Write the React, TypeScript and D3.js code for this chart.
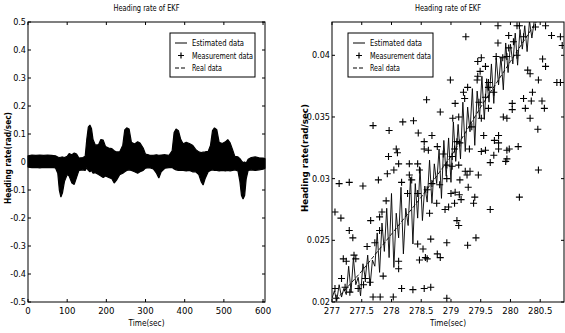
import React, { useEffect, useRef } from 'react';
import * as d3 from 'd3';

// left panel: the 0-600 s run, drawn as the black band the three series form
// [time, upper edge, lower edge]
const bandLeft: [number, number, number][] = [
  [0, 0.022, -0.018], [10, 0.025, -0.02], [20, 0.024, -0.019], [30, 0.025, -0.021],
  [40, 0.024, -0.019], [50, 0.025, -0.02], [60, 0.024, -0.019], [70, 0.022, -0.021],
  [76, 0.018, -0.04], [80, 0.016, -0.1], [84, 0.017, -0.125], [88, 0.018, -0.11],
  [93, 0.016, -0.07], [100, 0.02, -0.045], [105, 0.03, -0.05], [112, 0.026, -0.075],
  [118, 0.032, -0.08], [124, 0.028, -0.055], [130, 0.014, -0.03], [140, 0.016, -0.028],
  [146, 0.02, -0.03], [150, 0.08, -0.02], [154, 0.125, -0.03], [158, 0.132, -0.035],
  [162, 0.12, -0.03], [166, 0.08, -0.04], [172, 0.06, -0.038], [180, 0.062, -0.045],
  [186, 0.08, -0.05], [192, 0.078, -0.055], [198, 0.055, -0.05], [206, 0.05, -0.055],
  [214, 0.048, -0.06], [220, 0.04, -0.075], [226, 0.036, -0.065], [234, 0.036, -0.045],
  [242, 0.06, -0.04], [247, 0.115, -0.035], [252, 0.122, -0.03], [258, 0.118, -0.028],
  [264, 0.07, -0.03], [272, 0.064, -0.035], [280, 0.072, -0.04], [286, 0.068, -0.035],
  [294, 0.05, -0.03], [300, 0.028, -0.022], [310, 0.025, -0.02], [320, 0.024, -0.025],
  [328, 0.026, -0.04], [334, 0.024, -0.057], [340, 0.025, -0.035], [350, 0.026, -0.022],
  [360, 0.024, -0.02], [368, 0.04, -0.02], [373, 0.105, -0.025], [378, 0.118, -0.028],
  [384, 0.112, -0.03], [390, 0.08, -0.03], [396, 0.065, -0.03], [404, 0.07, -0.032],
  [412, 0.066, -0.03], [420, 0.06, -0.035], [428, 0.045, -0.035], [436, 0.036, -0.045],
  [442, 0.034, -0.07], [447, 0.035, -0.082], [452, 0.036, -0.06], [460, 0.038, -0.035],
  [466, 0.06, -0.03], [471, 0.112, -0.028], [476, 0.122, -0.03], [482, 0.115, -0.03],
  [488, 0.07, -0.032], [496, 0.066, -0.03], [504, 0.072, -0.032], [510, 0.08, -0.03],
  [516, 0.068, -0.032], [522, 0.045, -0.03], [528, 0.02, -0.028], [536, 0.018, -0.032],
  [541, 0.012, -0.07], [545, 0.004, -0.12], [549, -0.002, -0.132], [553, 0, -0.12],
  [557, -0.004, -0.06], [562, 0.01, -0.03], [570, 0.016, -0.028], [580, 0.018, -0.03],
  [590, 0.015, -0.028], [600, 0.014, -0.026], [605, 0.012, -0.022],
];

const leftXTicks = [0, 100, 200, 300, 400, 500, 600];
const leftYTicks = [-0.5, -0.4, -0.3, -0.2, -0.1, 0, 0.1, 0.2, 0.3, 0.4, 0.5];

// right panel: zoom on 277-281 s
const measured: [number, number][] = [
  [278.99, 0.038], [278.59, 0.0364], [278.82, 0.0354], [277.69, 0.0343], [277.96, 0.0339],
  [278.19, 0.0346], [278.37, 0.0347], [278.45, 0.0337], [278.68, 0.0335], [278.55, 0.033],
  [278.55, 0.0324], [278.62, 0.0323], [278.77, 0.0326], [278.87, 0.032], [278.08, 0.0324],
  [278.1, 0.0321], [277.95, 0.0318],
  [279.25, 0.0415], [279.79, 0.0424], [280.11, 0.0424], [280.15, 0.0424], [279.97, 0.0416],
  [279.79, 0.041], [280.05, 0.0411], [280.22, 0.0415], [280.42, 0.0423], [280.59, 0.0424],
  [280.69, 0.0416], [280.84, 0.0415], [280.87, 0.0408], [279.97, 0.0406], [279.94, 0.0399],
  [279.76, 0.0399], [279.87, 0.0398], [280.11, 0.04], [279.51, 0.0398], [279.45, 0.0395],
  [279.58, 0.0391], [279.49, 0.0387], [279.44, 0.038], [279.45, 0.0383], [279.63, 0.0378],
  [279.63, 0.0374], [279.28, 0.0374], [279.21, 0.037], [279.23, 0.0365], [279.07, 0.0361],
  [279.03, 0.0349], [279.13, 0.035], [279.47, 0.0362], [279.58, 0.0366], [279.72, 0.037],
  [280.33, 0.0385], [280.29, 0.0388], [280.47, 0.038], [280.59, 0.0391], [280.54, 0.0397],
  [280.78, 0.0378], [280.84, 0.0378], [280.37, 0.037], [280.22, 0.0365], [280.35, 0.0363],
  [280.53, 0.0363], [280.57, 0.0357], [280.25, 0.0357], [280.03, 0.0356], [280.03, 0.0361],
  [280.33, 0.0349], [280.46, 0.034], [279.94, 0.0349], [279.63, 0.0357], [279.88, 0.035],
  [279.51, 0.0349], [279.55, 0.0335], [279.8, 0.0335], [279.73, 0.0331], [279.8, 0.0329],
  [279.94, 0.0323], [280.13, 0.0326], [279.98, 0.0324], [279.8, 0.0324], [279.72, 0.0319],
  [279.51, 0.0322], [279.58, 0.0323], [279.15, 0.0329], [279.1, 0.033], [279.06, 0.0324],
  [279.31, 0.0324], [279.02, 0.0318], [279.94, 0.0316], [279.35, 0.0342],
  [277.12, 0.0296], [277.29, 0.0297], [277.52, 0.0294], [277.78, 0.0299], [277.05, 0.0273],
  [277.15, 0.0268], [277.29, 0.0258], [277.35, 0.0252], [277.19, 0.0235], [277.24, 0.0233],
  [277.37, 0.0238], [277.4, 0.0235], [277.16, 0.0219], [277.05, 0.0211], [277.22, 0.0212],
  [277.3, 0.0208], [277.65, 0.0266], [277.8, 0.0269], [277.8, 0.0258], [277.84, 0.0273],
  [277.91, 0.0282], [277.59, 0.0245], [277.72, 0.0248], [277.93, 0.0304], [278.04, 0.0307],
  [278.12, 0.0312], [278.3, 0.0312], [278.3, 0.0303], [278.44, 0.0312], [278.47, 0.0307],
  [278.34, 0.0299], [278.17, 0.0297], [278.27, 0.0288], [278.44, 0.0288], [278.6, 0.0291],
  [278.68, 0.0296], [278.81, 0.0295], [278.9, 0.0275], [278.76, 0.028], [278.64, 0.0272],
  [278.66, 0.0251], [278.44, 0.0247], [278.53, 0.0243], [278.57, 0.0236], [278.6, 0.0235],
  [278.77, 0.0239], [278.82, 0.0236], [278.47, 0.0234], [278.93, 0.0248], [278.12, 0.0233],
  [278.12, 0.0227], [278.17, 0.0211], [278.36, 0.021], [278.55, 0.0211], [278.66, 0.0212],
  [277.69, 0.0204], [277.81, 0.0204], [278.03, 0.0204], [278.93, 0.0203], [277.56, 0.0219],
  [277.86, 0.0221], [277.64, 0.0216], [277.53, 0.0214], [277.07, 0.0203], [277.44, 0.0211],
  [278.93, 0.0311], [279.02, 0.031], [279.13, 0.0311], [279.24, 0.0306], [279.27, 0.0303],
  [279.32, 0.0306], [279.46, 0.0303], [279.15, 0.0299], [278.93, 0.03], [279.66, 0.0313],
  [279.92, 0.0314], [280.47, 0.0307], [279.29, 0.0293], [279.0, 0.0288], [279.07, 0.0289],
  [279.14, 0.0287], [279.17, 0.0283], [279.06, 0.028], [278.96, 0.0277], [279.4, 0.0285],
  [279.38, 0.028], [279.66, 0.0275], [280.15, 0.0285], [279.1, 0.0266], [279.13, 0.0262],
  [279.42, 0.0252], [279.28, 0.0246],
];

const estimated: [number, number][] = [
  [277.0, 0.0203], [277.04, 0.0209], [277.08, 0.0201], [277.12, 0.0214], [277.16, 0.0204],
  [277.2, 0.0211], [277.24, 0.0206], [277.28, 0.0229], [277.32, 0.0208], [277.36, 0.0236],
  [277.4, 0.0214], [277.44, 0.022], [277.48, 0.0205], [277.52, 0.0231], [277.56, 0.0219],
  [277.6, 0.0238], [277.64, 0.0213], [277.68, 0.0234], [277.72, 0.0229], [277.76, 0.0256],
  [277.8, 0.0224], [277.84, 0.0264], [277.88, 0.0241], [277.92, 0.0276], [277.96, 0.0236],
  [278.0, 0.0288], [278.04, 0.0228], [278.08, 0.0272], [278.12, 0.0252], [278.16, 0.0293],
  [278.2, 0.0239], [278.24, 0.0276], [278.28, 0.0262], [278.32, 0.0301], [278.36, 0.0247],
  [278.4, 0.0296], [278.44, 0.0268], [278.48, 0.0309], [278.52, 0.0266], [278.56, 0.0294],
  [278.6, 0.0281], [278.64, 0.0315], [278.68, 0.028], [278.72, 0.0312], [278.76, 0.0296],
  [278.8, 0.0324], [278.84, 0.0284], [278.88, 0.0331], [278.92, 0.0302], [278.96, 0.0333],
  [279.0, 0.0297], [279.04, 0.0346], [279.08, 0.0314], [279.12, 0.0344], [279.16, 0.0316],
  [279.2, 0.0362], [279.24, 0.0322], [279.28, 0.0358], [279.32, 0.0338], [279.36, 0.0373],
  [279.4, 0.0327], [279.44, 0.0371], [279.48, 0.0349], [279.52, 0.0383], [279.56, 0.0348],
  [279.6, 0.0381], [279.64, 0.0362], [279.68, 0.0393], [279.72, 0.0361], [279.76, 0.0398],
  [279.8, 0.0376], [279.84, 0.0399], [279.88, 0.0372], [279.92, 0.041], [279.96, 0.0386],
  [280.0, 0.0409], [280.04, 0.0393], [280.08, 0.0418], [280.12, 0.0392], [280.16, 0.0421],
  [280.2, 0.0405], [280.24, 0.0424], [280.28, 0.0403], [280.32, 0.0428], [280.36, 0.0414],
  [280.4, 0.0428],
];

const realData: [number, number][] = [
  [277.0, 0.0198], [277.5, 0.0225], [278.0, 0.0255], [278.5, 0.0285],
  [279.0, 0.0318], [279.5, 0.0358], [280.0, 0.0395], [280.5, 0.0432],
];

const rightXTicks = [277, 277.5, 278, 278.5, 279, 279.5, 280, 280.5];
const rightYTicks = [0.02, 0.025, 0.03, 0.035, 0.04];

const legendItems = ['Estimated data', 'Measurement data', 'Real data'];

const FONT = "'DejaVu Sans Condensed', 'Liberation Sans', sans-serif";

type Box = { x0: number; x1: number; y0: number; y1: number };

function frame(
  g: d3.Selection<SVGGElement, unknown, null, undefined>,
  x: d3.ScaleLinear<number, number>, y: d3.ScaleLinear<number, number>,
  b: Box, xt: number[], yt: number[],
) {
  const tl = 3;
  g.append('rect').attr('x', b.x0).attr('y', b.y0).attr('width', b.x1 - b.x0).attr('height', b.y1 - b.y0)
    .attr('fill', 'none').attr('stroke', '#000').attr('stroke-width', 1);
  xt.forEach(t => {
    const px = x(t);
    g.append('line').attr('x1', px).attr('x2', px).attr('y1', b.y1).attr('y2', b.y1 - tl).attr('stroke', '#000');
    g.append('line').attr('x1', px).attr('x2', px).attr('y1', b.y0).attr('y2', b.y0 + tl).attr('stroke', '#000');
    g.append('text').attr('x', px).attr('y', b.y1 + 12).attr('text-anchor', 'middle')
      .attr('font-size', 9.5).text(String(t));
  });
  yt.forEach(t => {
    const py = y(t);
    g.append('line').attr('x1', b.x0).attr('x2', b.x0 + tl).attr('y1', py).attr('y2', py).attr('stroke', '#000');
    g.append('line').attr('x1', b.x1).attr('x2', b.x1 - tl).attr('y1', py).attr('y2', py).attr('stroke', '#000');
    g.append('text').attr('x', b.x0 - 2).attr('y', py + 3).attr('text-anchor', 'end')
      .attr('font-size', 9).text(String(t));
  });
  const cx = (b.x0 + b.x1) / 2;
  g.append('text').attr('x', cx).attr('y', 11).attr('text-anchor', 'middle').attr('font-size', 8)
    .attr('textLength', 66).attr('lengthAdjust', 'spacingAndGlyphs').text('Heading rate of EKF');
  g.append('text').attr('x', cx).attr('y', 326).attr('text-anchor', 'middle').attr('font-size', 9.5)
    .attr('textLength', 36).attr('lengthAdjust', 'spacingAndGlyphs').text('Time(sec)');
}

function legend(g: d3.Selection<SVGGElement, unknown, null, undefined>, lx: number, ly: number, w: number) {
  const widths = [52, 61, 30];
  g.append('rect').attr('x', lx).attr('y', ly).attr('width', w).attr('height', 44)
    .attr('fill', '#fff').attr('stroke', '#000').attr('stroke-width', 1);
  legendItems.forEach((name, i) => {
    const yy = ly + 10 + i * 12.5;
    const sx = lx + 5;
    if (i === 0) g.append('line').attr('x1', sx).attr('x2', sx + 12).attr('y1', yy).attr('y2', yy).attr('stroke', '#000');
    if (i === 1) g.append('path').attr('d', `M${sx + 6 - 3},${yy}h6M${sx + 6},${yy - 3}v6`).attr('stroke', '#000').attr('stroke-width', 1.2);
    if (i === 2) g.append('line').attr('x1', sx).attr('x2', sx + 12).attr('y1', yy).attr('y2', yy)
      .attr('stroke', '#000').attr('stroke-dasharray', '4,2');
    g.append('text').attr('x', sx + 17).attr('y', yy + 3).attr('font-size', 9)
      .attr('textLength', widths[i]).attr('lengthAdjust', 'spacingAndGlyphs').text(name);
  });
}

function yLabel(g: d3.Selection<SVGGElement, unknown, null, undefined>, x: number, cy: number, len: number) {
  g.append('text').attr('transform', `translate(${x},${cy}) rotate(-90)`)
    .attr('text-anchor', 'middle').attr('font-size', 9).attr('font-weight', 'bold')
    .attr('textLength', len).attr('lengthAdjust', 'spacingAndGlyphs')
    .text('Heading rate(rad/sec)');
}

export default function App() {
  const ref = useRef<SVGSVGElement>(null);

  useEffect(() => {
    if (!ref.current) return;
    const svg = d3.select(ref.current);
    svg.selectAll('*').remove();
    const root = svg.append('g').attr('font-family', FONT).attr('fill', '#000');

    // ---- left
    const bl: Box = { x0: 28, x1: 265, y0: 22, y1: 302 };
    const xl = d3.scaleLinear().domain([0, 605]).range([bl.x0, bl.x1]);
    const yl = d3.scaleLinear().domain([-0.5, 0.5]).range([bl.y1, bl.y0]);
    const gl = root.append('g');
    const area = d3.area<[number, number, number]>()
      .x(d => xl(d[0])).y0(d => yl(d[2])).y1(d => yl(d[1]));
    gl.append('path').datum(bandLeft).attr('d', area).attr('fill', '#000')
      .attr('stroke', '#000').attr('stroke-width', 1.2).attr('stroke-linejoin', 'bevel');
    frame(gl, xl, yl, bl, leftXTicks, leftYTicks);
    legend(gl, 170, 33, 85);
    yLabel(gl, 11, 158, 92);

    // ---- right
    const br: Box = { x0: 332, x1: 564, y0: 22, y1: 302 };
    const xr = d3.scaleLinear().domain([277, 280.9]).range([br.x0, br.x1]);
    const yr = d3.scaleLinear().domain([0.02, 0.0427]).range([br.y1, br.y0]);
    const gr = root.append('g');
    gr.append('clipPath').attr('id', 'clipR').append('rect')
      .attr('x', br.x0).attr('y', br.y0).attr('width', br.x1 - br.x0).attr('height', br.y1 - br.y0);
    const plot = gr.append('g').attr('clip-path', 'url(#clipR)');
    const line = d3.line<[number, number]>().x(d => xr(d[0])).y(d => yr(d[1]));
    plot.append('path').datum(realData).attr('d', line).attr('fill', 'none')
      .attr('stroke', '#000').attr('stroke-width', 0.9).attr('stroke-dasharray', '4,2');
    plot.append('path').datum(estimated).attr('d', line).attr('fill', 'none')
      .attr('stroke', '#000').attr('stroke-width', 0.9);
    plot.selectAll('path.m').data(measured).enter().append('path').attr('class', 'm')
      .attr('d', d => `M${xr(d[0]) - 3.5},${yr(d[1])}h7M${xr(d[0])},${yr(d[1]) - 3.5}v7`)
      .attr('stroke', '#000').attr('stroke-width', 1.1);
    frame(gr, xr, yr, br, rightXTicks, rightYTicks);
    legend(gr, 348, 33, 85);
    yLabel(gr, 308, 158, 108);
  }, []);

  return (
    <svg ref={ref} width={565} height={333}
      style={{ position: 'absolute', left: 0, top: 0, background: '#fff' }} />
  );
}
